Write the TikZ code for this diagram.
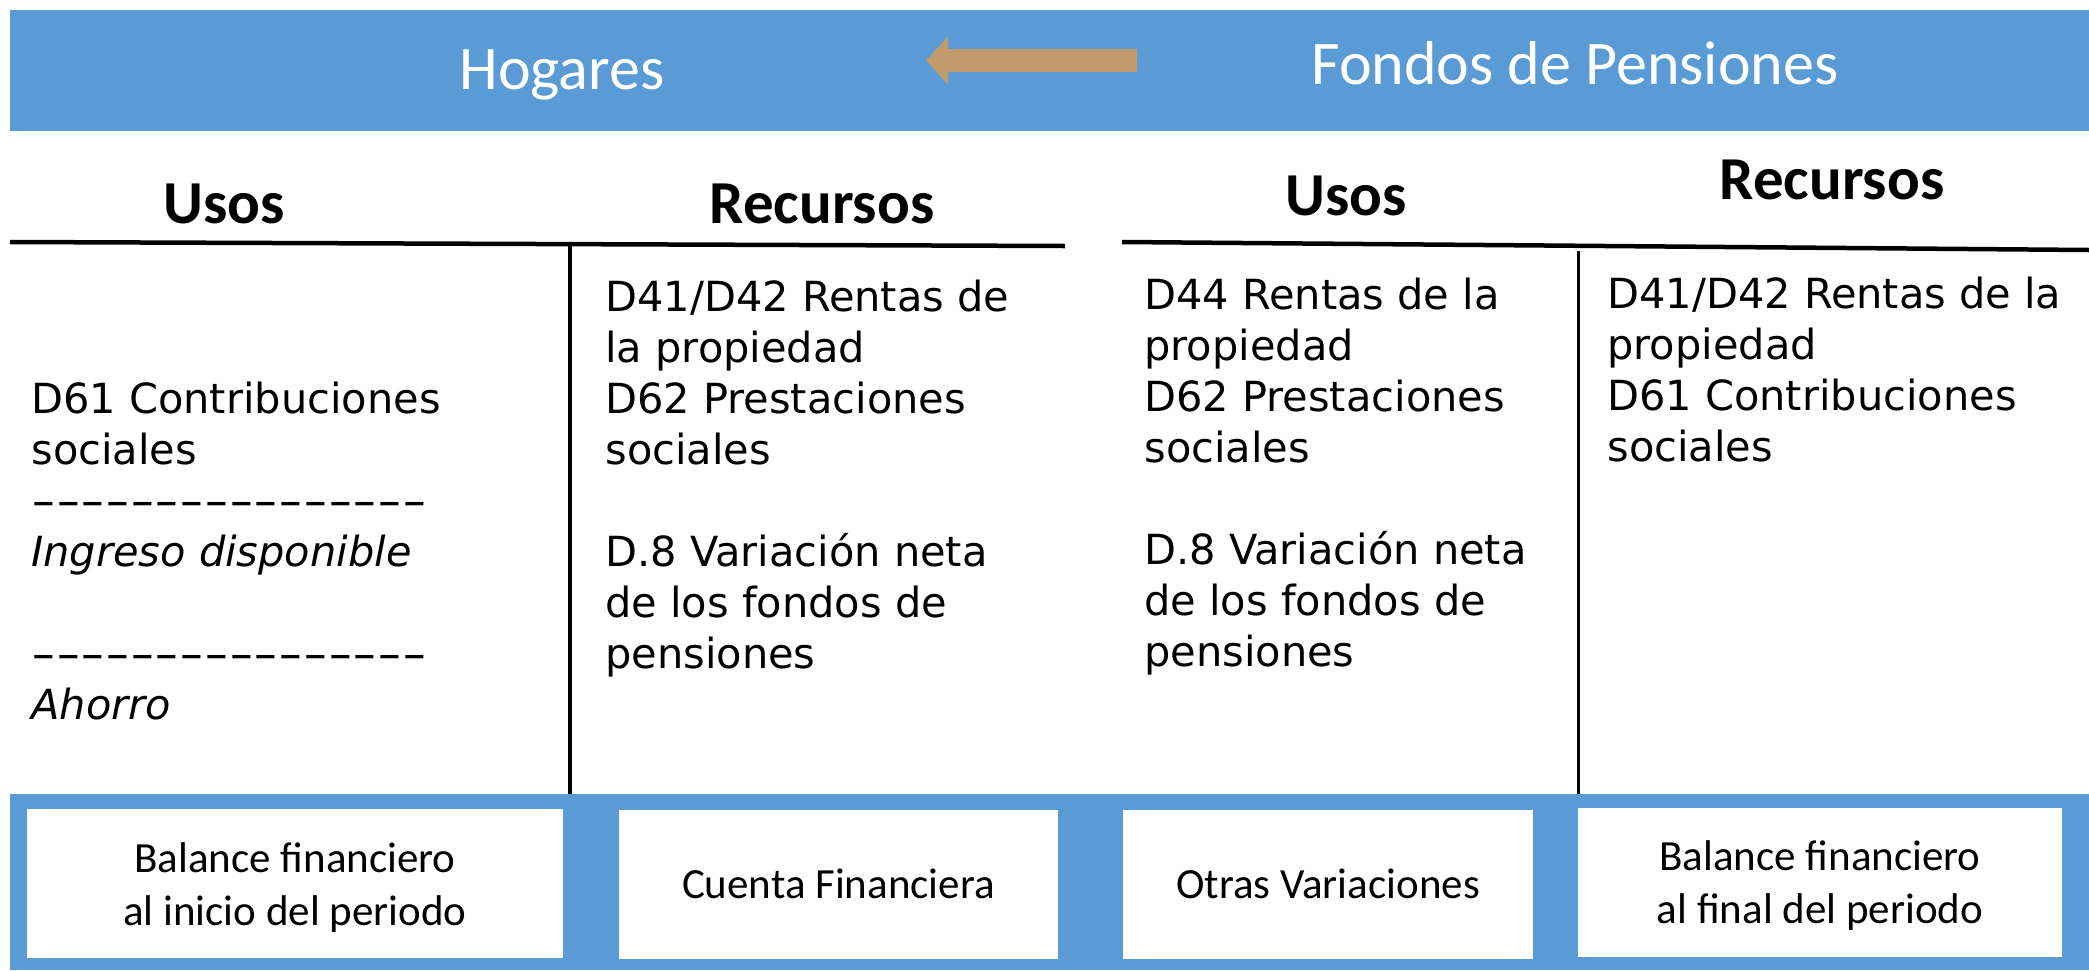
\documentclass[tikz,border=0pt]{standalone}
\usepackage{fontspec}
\setmainfont{DejaVu Sans}
\newfontfamily\calibri{Carlito}
\usepackage{graphicx}
\usetikzlibrary{arrows.meta}
\definecolor{bandblue}{RGB}{91,155,213}
\definecolor{arrowtan}{RGB}{193,155,107}
\newcommand\hy{-\kern0pt}
\newcommand\dashrow{\scalebox{1.65}[1]{\hy\hy\hy\hy\hy\hy\hy\hy\hy\hy\hy\hy\hy\hy\hy\hy}}
\begin{document}
\begin{tikzpicture}[x=0.5pt,y=-0.5pt,
  titletxt/.style={anchor=base, inner sep=0pt, text=white, font=\calibri\fontsize{31}{37}\selectfont},
  hdr/.style={anchor=base, inner sep=0pt, font=\calibri\bfseries\fontsize{30.5}{36}\selectfont},
  bodytxt/.style={anchor=base west, inner sep=0pt, font=\fontsize{20.75}{25.5}\selectfont},
  wbox/.style={fill=white, draw=none, inner sep=0pt, minimum height=74.5pt},
  lbl/.style={anchor=base, inner sep=0pt, font=\calibri\fontsize{21.5}{26.5}\selectfont},
  rulethick/.style={line width=2.25pt},
  rulevert/.style={line width=1.75pt}]
\useasboundingbox (0,0) rectangle (2089,970);
% top band
\fill[bandblue] (10,10) rectangle (2089,131);
\node[titletxt] (hog) at (562,89) {Hogares};
\node[titletxt] (fon) at (1575,84) {Fondos de Pensiones};
\coordinate (atail) at (1137,60.5);
\coordinate (ahead) at (926,60.5);
\draw[arrowtan, line width=11.5pt, line cap=butt, -{Triangle[length=11pt,width=23.5pt]}] (atail) -- (ahead);
% headers
\node[hdr] (usos1) at (224,223) {Usos};
\node[hdr] (rec1) at (822,223) {Recursos};
\node[hdr] (usos2) at (1346,215) {Usos};
\node[hdr] (rec2) at (1832,199) {Recursos};
% T-account rules
\coordinate (h1a) at (10,242);
\coordinate (h1b) at (1065,246);
\coordinate (h2a) at (1122,242);
\coordinate (h2b) at (2089,250);
\coordinate (v1a) at (570,245);
\coordinate (v1b) at (570,794);
\coordinate (v2a) at (1578,251);
\coordinate (v2b) at (1578,794);
\draw[rulethick] (h1a) -- (h1b);
\draw[rulethick] (h2a) -- (h2b);
\draw[rulevert] (v1a) -- (v1b);
\draw[line width=1.5pt] (v2a) -- (v2b);
% body texts
\node[bodytxt] (hu) at (31,413) {\begin{tabular}[t]{@{}l@{}}D61 Contribuciones\\sociales\\\dashrow\\\textit{Ingreso disponible}\\{}\\\dashrow\\\textit{Ahorro}\end{tabular}};
\node[bodytxt] (hr) at (605,311) {\begin{tabular}[t]{@{}l@{}}D41/D42 Rentas de\\la propiedad\\D62 Prestaciones\\sociales\\{}\\D.8 Variación neta\\de los fondos de\\pensiones\end{tabular}};
\node[bodytxt] (fu) at (1144,309) {\begin{tabular}[t]{@{}l@{}}D44 Rentas de la\\propiedad\\D62 Prestaciones\\sociales\\{}\\D.8 Variación neta\\de los fondos de\\pensiones\end{tabular}};
\node[bodytxt] (fr) at (1607,308) {\begin{tabular}[t]{@{}l@{}}D41/D42 Rentas de la\\propiedad\\D61 Contribuciones\\sociales\end{tabular}};
% bottom band
\fill[bandblue] (10,794) rectangle (2089,970);
\node[wbox, minimum width=268pt] (b1) at (295,883.5) {};
\node[wbox, minimum width=219.5pt] (b2) at (838.5,884.5) {};
\node[wbox, minimum width=205pt] (b3) at (1328,884.5) {};
\node[wbox, minimum width=242pt] (b4) at (1820,882.5) {};
\node[lbl] (l1) at (295,872) {\begin{tabular}[t]{@{}c@{}}Balance financiero\\al inicio del periodo\end{tabular}};
\node[lbl] (l2) at (838.5,898) {Cuenta Financiera};
\node[lbl] (l3) at (1328,898) {Otras Variaciones};
\node[lbl] (l4) at (1820,870) {\begin{tabular}[t]{@{}c@{}}Balance financiero\\al final del periodo\end{tabular}};
\end{tikzpicture}
\end{document}
